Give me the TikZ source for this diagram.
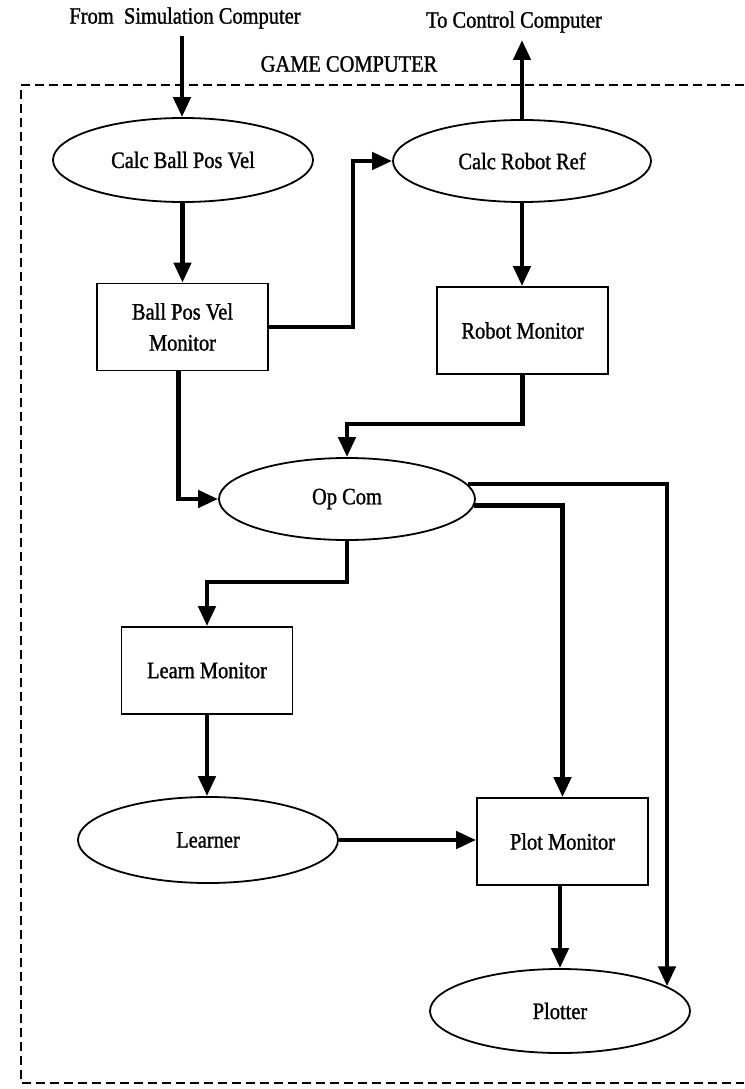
\documentclass[tikz,border=0pt]{standalone}
\usepackage{fontspec}
\setmainfont{Liberation Serif}[FakeStretch=0.87,FakeBold=1.2]
\usetikzlibrary{arrows.meta,shapes.geometric}
\begin{document}
\begin{tikzpicture}[x=1pt,y=-1pt,
  lbl/.style={font=\fontsize{23.5}{28}\selectfont},
  txt/.style={lbl, inner sep=0pt},
  proc/.style={ellipse, draw, line width=1.8pt, fill=white, inner sep=0pt, lbl},
  mon/.style={rectangle, draw, line width=1.8pt, fill=white, inner sep=0pt, minimum width=171pt, minimum height=87pt, align=center, lbl},
  conn/.style={line width=4.5pt, -{Triangle[length=20pt,width=17pt]}},
  bound/.style={line width=2pt, dash pattern=on 9pt off 5pt}
]
\useasboundingbox (0,0) rectangle (744,1089);
\fill[white] (0,0) rectangle (744,1089);

% boundary
\draw[bound] (744,85) -- (21,85) -- (21,1083) -- (744,1083);
\node[txt] (game) at (349,64) {GAME COMPUTER};

% external labels
\node[txt] (from) at (185,18) {From\ \ Simulation Computer};
\node[txt] (to) at (514,22) {To Control Computer};
\coordinate (fromend) at (182,36);
\coordinate (toend) at (522,40);

% nodes
\node[proc, minimum width=260pt, minimum height=84pt] (cbpv) at (183,160) {Calc Ball Pos Vel};
\node[proc, minimum width=258pt, minimum height=82pt] (crr) at (522,161) {Calc Robot Ref};
\node[mon] (bpvm) at (182.5,327) {Ball Pos Vel\\[3pt]Monitor};
\node[mon] (rm) at (522.5,330.5) {Robot Monitor};
\node[proc, minimum width=256pt, minimum height=82pt] (opcom) at (347,499) {Op Com};
\node[mon] (lm) at (207,670.5) {Learn Monitor};
\node[proc, minimum width=260pt, minimum height=86pt] (learner) at (208,840) {Learner};
\node[mon] (pm) at (562.5,841.5) {Plot Monitor};
\node[proc, minimum width=260pt, minimum height=84pt] (plotter) at (560,1011) {Plotter};

% connectors
\draw[conn] (fromend) -- (fromend |- cbpv.north);
\draw[conn] (crr.north) -- (toend);
\draw[conn] (cbpv.south -| bpvm.north) -- (bpvm.north);
\draw[conn] (bpvm.east) -- ++(84,0) |- (crr.west);
\draw[conn] (crr.south) -- (crr.south |- rm.north);
\draw[conn] (rm.south) -- ++(0,49) -| (opcom.north);
\draw[conn] ([xshift=-4pt]bpvm.south) |- (opcom.west);
\draw[conn] (opcom.7) -| (plotter.13.3);
\draw[conn] (opcom.-3) -| (pm.north);
\draw[conn] (opcom.south) -- ++(0,41) -| (lm.north);
\draw[conn] (lm.south) -- (lm.south |- learner.north);
\draw[conn] (learner.east) -- (learner.east -| pm.west);
\draw[conn] (pm.south -| plotter.north) -- (plotter.north);
\end{tikzpicture}
\end{document}
